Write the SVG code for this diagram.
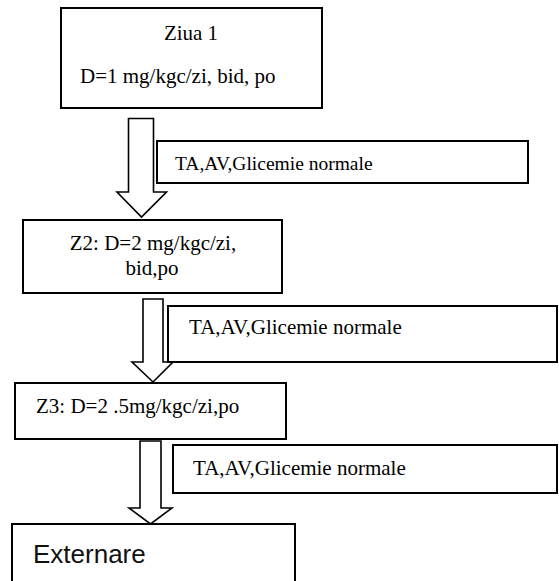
<svg xmlns="http://www.w3.org/2000/svg" width="559" height="581" viewBox="0 0 559 581">
<style>
.box{fill:#fff;stroke:#000;stroke-width:2}
.lbl{fill:#fff;stroke:#000;stroke-width:2}
.arr{fill:#fff;stroke:#000;stroke-width:1.6;stroke-linejoin:miter}
.t{font-family:"Liberation Serif","Times New Roman",serif;font-size:21px;fill:#000}
.s{font-family:"Liberation Serif","Times New Roman",serif;font-size:19.5px;fill:#000}
.e{font-family:"Liberation Sans",Arial,sans-serif;font-size:26px;fill:#111}
</style>
<rect width="559" height="581" fill="#fff"/>
<g id="n1">
<rect class="box" x="61" y="8" width="261" height="100"/>
<text class="t" x="191" y="40" text-anchor="middle">Ziua 1</text>
<text class="t" x="80" y="83">D=1 mg/kgc/zi, bid, po</text>
</g>
<g id="n2">
<rect class="box" x="23" y="220" width="259" height="73"/>
<text class="t" x="153" y="250" text-anchor="middle">Z2: D=2 mg/kgc/zi,</text>
<text class="t" x="152" y="275" text-anchor="middle">bid,po</text>
</g>
<g id="n3">
<rect class="box" x="15" y="383" width="271" height="56"/>
<text class="t" x="36" y="413">Z3: D=2 .5mg/kgc/zi,po</text>
</g>
<g id="n4">
<path class="box" d="M12,590 V524 H295 V590"/>
<text class="e" x="33" y="563">Externare</text>
</g>
<g id="connectors">
<polygon class="arr" points="128.5,118.5 153.5,118.5 153.5,192 166.5,192 141.5,217 117,192 128.5,192"/>
<polygon class="arr" points="143,299 163,299 163,362 173,362 153,382 132,362 143,362"/>
<polygon class="arr" points="140,441 161,441 161,508 172,508 150.5,524 129,508 140,508"/>
</g>
<g id="l1">
<rect class="lbl" x="157" y="141" width="371" height="42"/>
<text class="s" x="175" y="170">TA,AV,Glicemie normale</text>
</g>
<g id="l2">
<rect class="lbl" x="168" y="306" width="389" height="56"/>
<text class="t" x="189" y="334">TA,AV,Glicemie normale</text>
</g>
<g id="l3">
<rect class="lbl" x="173" y="445" width="384" height="48"/>
<text class="t" x="193" y="475">TA,AV,Glicemie normale</text>
</g>
</svg>
